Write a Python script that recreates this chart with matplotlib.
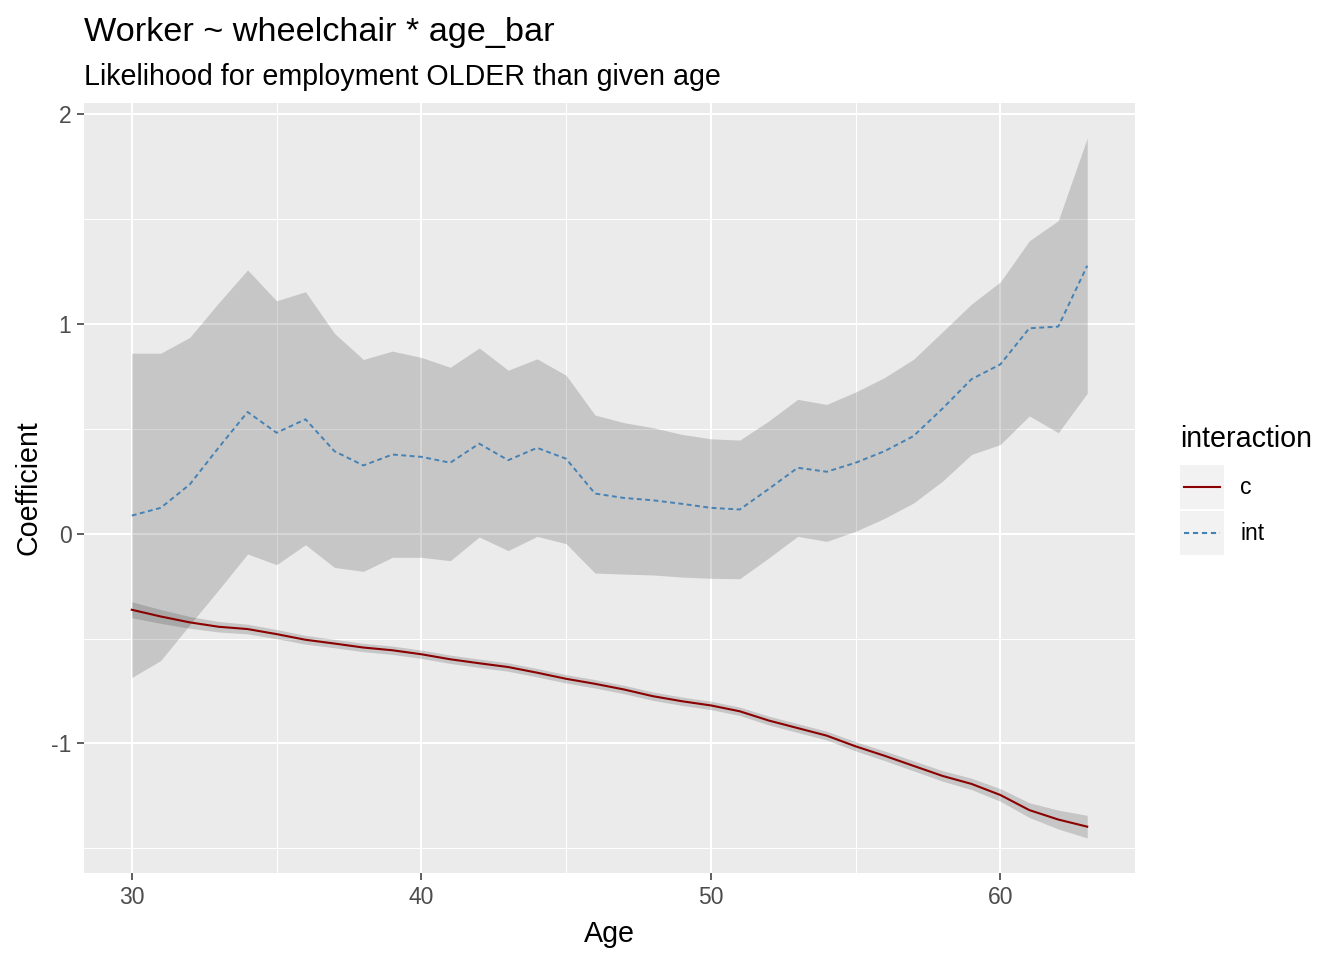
import numpy as np
import matplotlib
matplotlib.use("Agg")
import matplotlib.pyplot as plt
from matplotlib.patches import Rectangle
from matplotlib.lines import Line2D

plt.rcParams['font.family'] = ['Liberation Sans', 'DejaVu Sans']
plt.rcParams['axes.unicode_minus'] = False

age = np.arange(30, 64)

# interaction term: estimate and band
int_est = [0.086, 0.123, 0.234, 0.41, 0.58, 0.481, 0.545, 0.393, 0.325, 0.377,
           0.366, 0.338, 0.429, 0.35, 0.409, 0.357, 0.191, 0.170, 0.159, 0.142,
           0.123, 0.115, 0.213, 0.314, 0.295, 0.338, 0.393, 0.465, 0.596, 0.736,
           0.807, 0.979, 0.987, 1.277]
int_hi = [0.86, 0.86, 0.935, 1.10, 1.257, 1.11, 1.153, 0.955, 0.83, 0.87,
          0.84, 0.793, 0.885, 0.779, 0.833, 0.755, 0.565, 0.529, 0.505, 0.473,
          0.452, 0.446, 0.537, 0.640, 0.616, 0.675, 0.744, 0.831, 0.962, 1.094,
          1.2, 1.396, 1.492, 1.886]
int_lo = [-0.686, -0.605, -0.435, -0.268, -0.097, -0.148, -0.053, -0.161, -0.18, -0.113,
          -0.113, -0.129, -0.016, -0.081, -0.013, -0.048, -0.188, -0.193, -0.197, -0.207,
          -0.213, -0.215, -0.116, -0.013, -0.037, 0.011, 0.073, 0.146, 0.25, 0.377,
          0.425, 0.561, 0.481, 0.669]

# main effect c: estimate and half-width of band
c_est = [-0.363, -0.395, -0.423, -0.444, -0.455, -0.479, -0.506, -0.524, -0.543, -0.556,
         -0.575, -0.599, -0.618, -0.636, -0.663, -0.692, -0.716, -0.743, -0.775, -0.799,
         -0.819, -0.847, -0.891, -0.927, -0.963, -1.014, -1.059, -1.107, -1.155, -1.193,
         -1.246, -1.318, -1.363, -1.397]
c_half = [0.038, 0.033, 0.028, 0.025, 0.023, 0.022, 0.021, 0.02, 0.02, 0.02,
          0.02, 0.02, 0.02, 0.02, 0.02, 0.02, 0.02, 0.02, 0.02, 0.02,
          0.02, 0.02, 0.021, 0.021, 0.021, 0.022, 0.023, 0.024, 0.025, 0.027,
          0.03, 0.035, 0.045, 0.054]

c_lo = np.array(c_est) - np.array(c_half)
c_hi = np.array(c_est) + np.array(c_half)

fig = plt.figure(figsize=(13.44, 9.6), dpi=100)
ax = fig.add_axes([84/1344, 1-873/960, 1051/1344, 770/960])
ax.set_facecolor('#EBEBEB')
for s in ax.spines.values():
    s.set_visible(False)

ax.fill_between(age, c_lo, c_hi, color='#333333', alpha=0.2, linewidth=0)
ax.fill_between(age, int_lo, int_hi, color='#333333', alpha=0.2, linewidth=0)
ax.plot(age, c_est, color='#8B0000', lw=1.5)
ax.plot(age, int_est, color='#4682B4', lw=1.4, dashes=(2.5, 1.8))

# ggplot style 5% expansion
lo = min(c_lo.min(), min(int_lo))
hi = max(c_hi.max(), max(int_hi))
ax.set_xlim(30 - 0.05*33, 63 + 0.05*33)
ax.set_ylim(lo - 0.05*(hi-lo), hi + 0.05*(hi-lo))

ax.set_xticks([30, 40, 50, 60])
ax.set_xticks([35, 45, 55], minor=True)
ax.set_yticks([-1, 0, 1, 2])
ax.set_yticks([-1.5, -0.5, 0.5, 1.5], minor=True)
ax.grid(which='major', color='white', lw=1.5)
ax.grid(which='minor', color='white', lw=0.75)
ax.set_axisbelow(True)
ax.tick_params(which='major', length=5, width=1.1, color='#333333',
               labelcolor='#4D4D4D', labelsize=16.5, pad=4)
ax.tick_params(which='minor', length=0)

ax.set_xlabel('Age', fontsize=20.6, labelpad=8)
ax.set_ylabel('Coefficient', fontsize=20.6, labelpad=6)

fig.text(84/1344, 1-41/960, 'Worker ~ wheelchair * age_bar', fontsize=24.7, va='baseline')
fig.text(84/1344, 1-85/960, 'Likelihood for employment OLDER than given age', fontsize=20.6, va='baseline')

# legend drawn as a small overlay, ggplot-like keys
lax = fig.add_axes([0, 0, 1, 1], facecolor='none')
lax.set_xlim(0, 1344)
lax.set_ylim(960, 0)
lax.axis('off')
lax.text(1180, 447, 'interaction', fontsize=20.6, va='baseline')
labels = ['c', 'int']
colors = ['#8B0000', '#4682B4']
styles = [None, (2.5, 1.8)]
for i, (lab, col, st) in enumerate(zip(labels, colors, styles)):
    top = 465 + i*46
    lax.add_patch(Rectangle((1180, top), 44, 44, color='#F2F2F2', lw=0))
    ln = Line2D([1184, 1220], [top+22, top+22], color=col, lw=1.5)
    if st:
        ln.set_dashes(st)
    lax.add_line(ln)
    lax.text(1240, top+23, lab, fontsize=16.5, va='center')

fig.savefig('out.png', dpi=100)
